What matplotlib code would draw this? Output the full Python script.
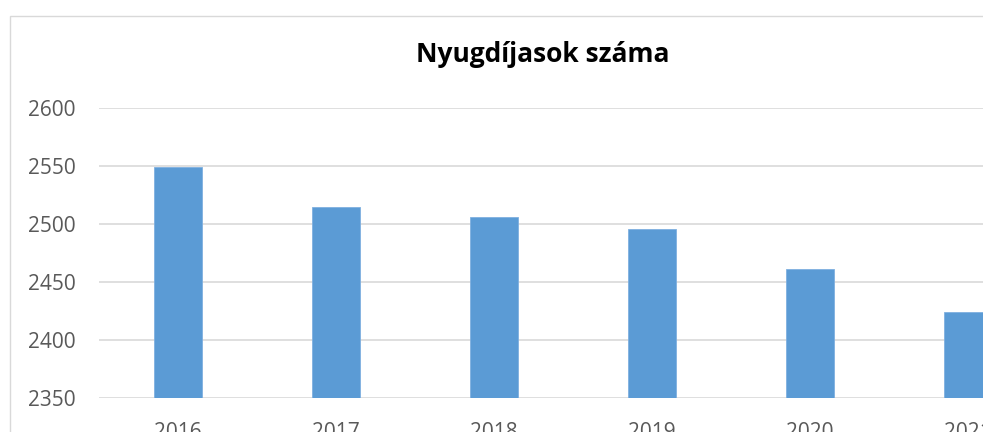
import matplotlib.pyplot as plt
from matplotlib.patches import Rectangle

# Nyugdíjasok száma évenként
years = ['2016', '2017', '2018', '2019', '2020', '2021']
pensioners = [2549, 2515, 2506, 2496, 2461, 2424]

plt.rcParams['font.family'] = ['Open Sans', 'DejaVu Sans']

W, H = 983, 432
fig = plt.figure(figsize=(W / 100, H / 100), dpi=100)

# keret a diagram körül
fig.patches.append(Rectangle((10 / W, -0.2), 1.2, 1 - 16 / H + 0.2,
                             transform=fig.transFigure, fill=False,
                             edgecolor='#d9d9d9', linewidth=1.0))

ax = fig.add_axes([99 / W, 34 / H, 948 / W, 290 / H])
x = range(len(years))
ax.bar(x, pensioners, width=0.31, color='#5b9bd5', edgecolor='#7fb0e0',
       linewidth=0.6, zorder=3, bottom=0)

ax.set_xlim(-0.5, len(years) - 0.5)
ax.set_ylim(2350, 2600)
ax.set_yticks(range(2350, 2601, 50))
ax.set_xticks(list(x))
ax.set_xticklabels(years)

ax.grid(axis='y', color='#d9d9d9', linewidth=1.2, zorder=0)
ax.set_axisbelow(True)
for s in ax.spines.values():
    s.set_visible(False)
ax.tick_params(axis='both', length=0, labelsize=15, labelcolor='#595959')
ax.tick_params(axis='y', pad=17)
ax.tick_params(axis='x', pad=17)

fig.text(543 / W, 1 - 55 / H, 'Nyugdíjasok száma', ha='center', va='center',
         fontsize=19, fontweight='bold', color='black')

fig.savefig('out.png', dpi=100)
